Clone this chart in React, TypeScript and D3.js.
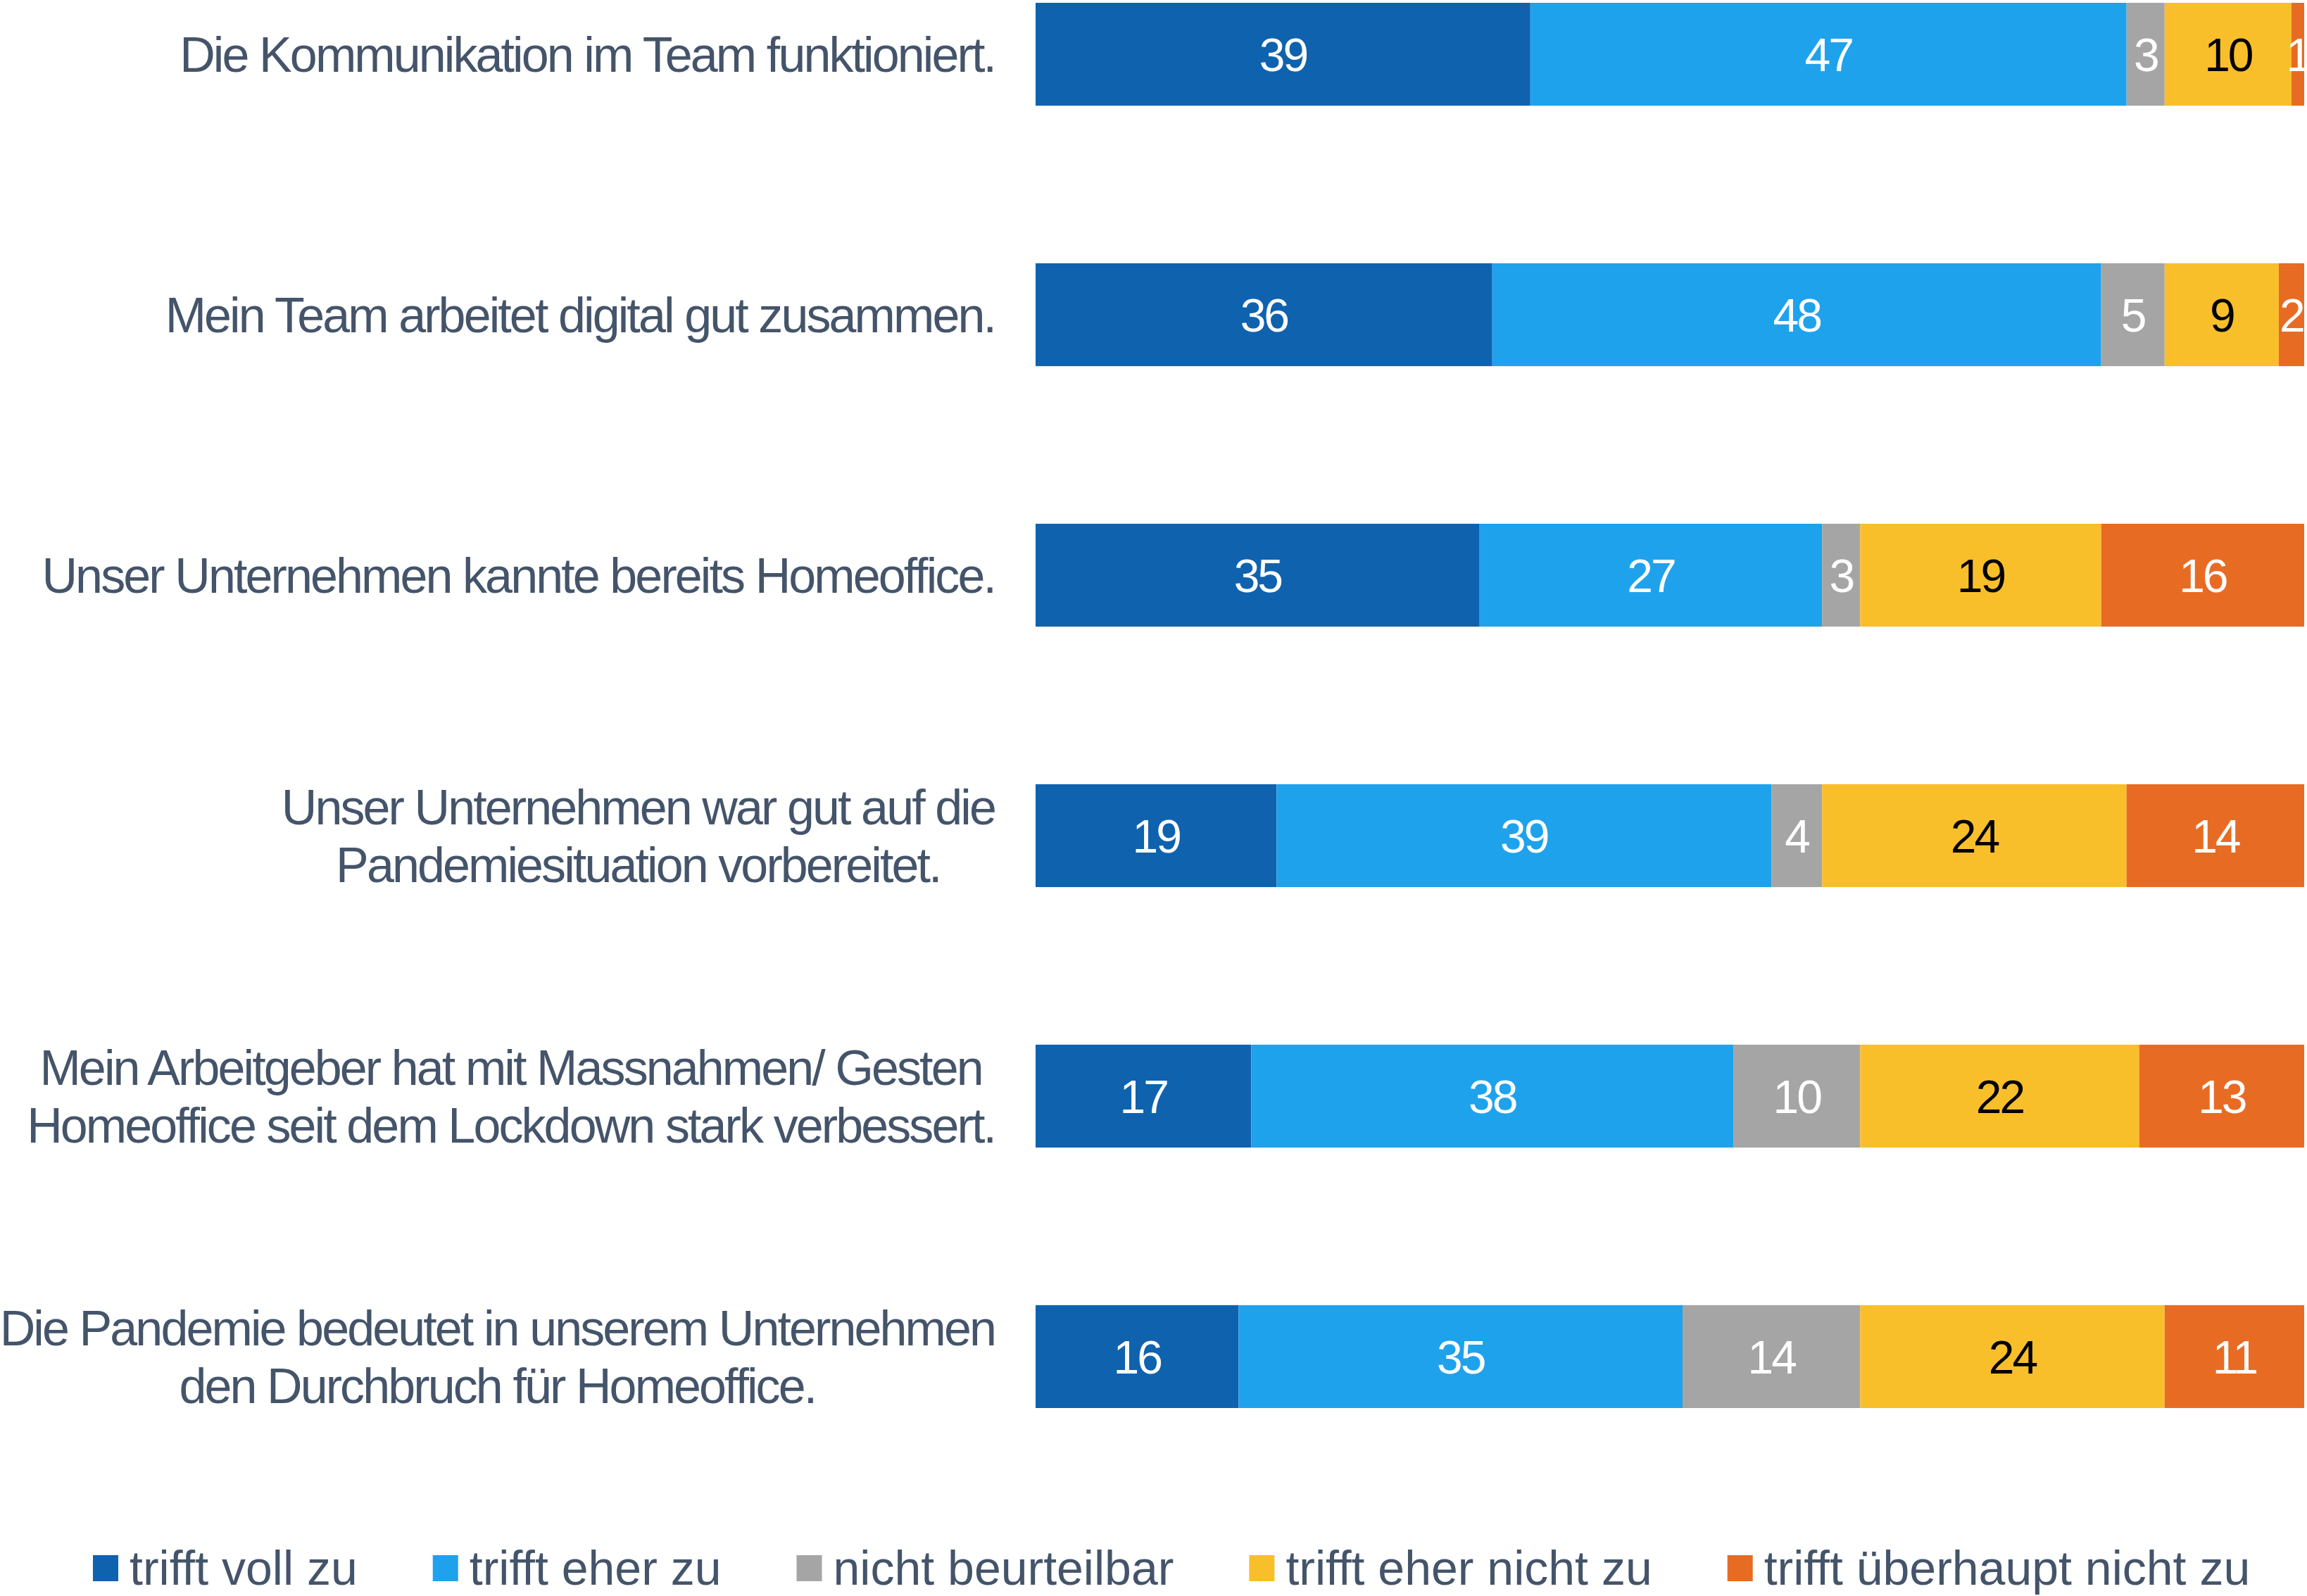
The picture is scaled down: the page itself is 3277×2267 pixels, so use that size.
import React, { useRef, useEffect } from 'react'
import * as d3 from 'd3'

const categories = [
  ['Die Kommunikation im Team funktioniert.'],
  ['Mein Team arbeitet digital gut zusammen.'],
  ['Unser Unternehmen kannte bereits Homeoffice.'],
  ['Unser Unternehmen war gut auf die', 'Pandemiesituation vorbereitet.'],
  ['Mein Arbeitgeber hat mit Massnahmen/ Gesten', 'Homeoffice seit dem Lockdown stark verbessert.'],
  ['Die Pandemie bedeutet in unserem Unternehmen', 'den Durchbruch für Homeoffice.']
]

const seriesNames = [
  'trifft voll zu',
  'trifft eher zu',
  'nicht beurteilbar',
  'trifft eher nicht zu',
  'trifft überhaupt nicht zu'
]

const vollZu = [39, 36, 35, 19, 17, 16]
const eherZu = [47, 48, 27, 39, 38, 35]
const nichtBeurteilbar = [3, 5, 3, 4, 10, 14]
const eherNichtZu = [10, 9, 19, 24, 22, 24]
const ueberhauptNichtZu = [1, 2, 16, 14, 13, 11]

const colors = ['#0f62ae', '#1fa2ec', '#a5a5a5', '#f9bf2b', '#e86b24']
const labelColors = ['#ffffff', '#ffffff', '#ffffff', '#000000', '#ffffff']

const W = 3277
const H = 2267
const FONT = '"Liberation Sans", Arial, sans-serif'
const TEXT_COLOR = '#44546a'

export default function App() {
  const catRef = useRef<SVGGElement>(null)
  const legendRef = useRef<SVGGElement>(null)

  const rows = categories.map((c, i) => ({
    key: i,
    s0: vollZu[i],
    s1: eherZu[i],
    s2: nichtBeurteilbar[i],
    s3: eherNichtZu[i],
    s4: ueberhauptNichtZu[i]
  }))
  const keys = ['s0', 's1', 's2', 's3', 's4']
  const stacked = d3.stack<any>().keys(keys)(rows)

  const xScale = d3.scaleLinear().domain([0, 100]).range([1471, 3273])
  const yScale = d3
    .scaleBand<number>()
    .domain(d3.range(categories.length))
    .range([4, 2000])
    .paddingInner(0.605)
    .paddingOuter(0)

  useEffect(() => {
    document.body.style.margin = '0'

    // category labels: centered block, right edge aligned
    const cg = d3.select(catRef.current)
    cg.selectAll('*').remove()
    categories.forEach((lines, i) => {
      const cy = (yScale(i) as number) + yScale.bandwidth() / 2
      const g = cg.append('g')
      const lineH = 82
      const texts = lines.map((line, j) => {
        const off = (j - (lines.length - 1) / 2) * lineH
        return g
          .append('text')
          .attr('y', cy + off + 25)
          .attr('text-anchor', 'middle')
          .attr('font-size', 70)
          .attr('letter-spacing', -2.9)
          .attr('fill', TEXT_COLOR)
          .text(line)
      })
      const maxW = d3.max(texts, t => (t.node() as SVGTextElement).getComputedTextLength()) || 0
      texts.forEach(t => t.attr('x', 1413 - maxW / 2))
    })

    // legend
    const lg = d3.select(legendRef.current)
    lg.selectAll('*').remove()
    let x = 132
    seriesNames.forEach((name, i) => {
      lg.append('rect')
        .attr('x', x)
        .attr('y', 2209)
        .attr('width', 36)
        .attr('height', 37)
        .attr('fill', colors[i])
      const t = lg
        .append('text')
        .attr('x', x + 52)
        .attr('y', 2251)
        .attr('font-size', 68)
        .attr('letter-spacing', 0)
        .attr('fill', TEXT_COLOR)
        .text(name)
      x += 52 + (t.node() as SVGTextElement).getComputedTextLength() + 107
    })
  }, [])

  return (
    <svg width={W} height={H} style={{ display: 'block', fontFamily: FONT }}>
      <rect width={W} height={H} fill="#ffffff" />
      {stacked.map((layer, si) => (
        <g key={si}>
          {layer.map((d, i) => {
            const x0 = xScale(d[0])
            const x1 = xScale(d[1])
            const y = yScale(i) as number
            return (
              <g key={i}>
                <rect x={x0} y={y} width={x1 - x0} height={yScale.bandwidth()} fill={colors[si]} />
                <text
                  x={(x0 + x1) / 2}
                  y={y + yScale.bandwidth() / 2}
                  dy="0.36em"
                  textAnchor="middle"
                  fontSize={66}
                  letterSpacing={-3}
                  fill={labelColors[si]}
                >
                  {d[1] - d[0]}
                </text>
              </g>
            )
          })}
        </g>
      ))}
      <g ref={catRef} />
      <g ref={legendRef} />
    </svg>
  )
}
